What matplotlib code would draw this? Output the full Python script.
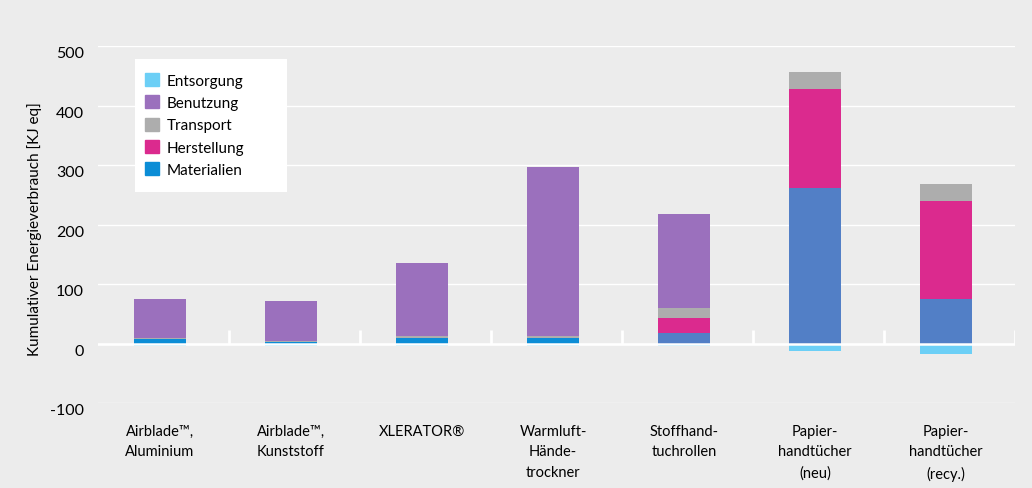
import numpy as np
import matplotlib
matplotlib.use("Agg")
import matplotlib.pyplot as plt
import matplotlib.transforms as mtransforms
from matplotlib.patches import Patch, Rectangle

plt.rcParams['font.family'] = ['Lato', 'DejaVu Sans']
plt.rcParams['axes.unicode_minus'] = False

# Daten
categories = ["Airblade\u2122,\nAluminium", "Airblade\u2122,\nKunststoff", "XLERATOR\u00ae",
              "Warmluft-\nHände-\ntrockner", "Stoffhand-\ntuchrollen",
              "Papier-\nhandtücher\n(neu)", "Papier-\nhandtücher\n(recy.)"]
materialien = [7, 3, 10, 10, 18, 261, 74]
herstellung = [0, 0, 0, 0, 25, 167, 165]
transport = [2, 2, 3, 3, 17, 29, 29]
benutzung = [66, 67, 122, 283, 157, 0, 0]
entsorgung = [-4, -4, -4, -4, -4, -12, -18]

c_ents = "#6ccff6"
c_benu = "#9b70bd"
c_trans = "#adadad"
c_herst = "#db2a8e"
c_mat = "#0b8dd6"
c_mat2 = "#527fc6"
bg = "#ececec"

fig = plt.figure(figsize=(10.32, 4.89), dpi=100, facecolor=bg)
ax = fig.add_axes([98/1032, 85/489, 917/1032, 357/489], facecolor=bg)

x = np.arange(len(categories))
xb = x - 0.027  # Balken leicht nach links versetzt wie im Original
w = 0.4
mat_colors = [c_mat] * 4 + [c_mat2] * 3

b0 = np.zeros(len(x))
ax.bar(xb, materialien, w, bottom=b0, color=mat_colors, zorder=2)
b1 = b0 + np.array(materialien)
ax.bar(xb, herstellung, w, bottom=b1, color=c_herst, zorder=2)
b2 = b1 + np.array(herstellung)
ax.bar(xb, transport, w, bottom=b2, color=c_trans, zorder=2)
b3 = b2 + np.array(transport)
ax.bar(xb, benutzung, w, bottom=b3, color=c_benu, zorder=2)
ax.bar(xb, entsorgung, w, color=c_ents, zorder=2)

ax.set_xlim(-0.5, len(x) - 0.5)
ax.set_ylim(-100, 500)
ax.set_yticks(np.arange(-100, 501, 100))
ax.yaxis.grid(True, color="white", linewidth=1, zorder=0)
ax.axhline(0, color="white", linewidth=1.8, zorder=3)
ax.vlines(np.arange(0.5, len(x)), 0, 22, color="white", linewidth=2, zorder=3)

for s in ax.spines.values():
    s.set_visible(False)
ax.tick_params(axis="both", length=0)
ax.tick_params(axis="y", labelsize=11.5, pad=10)
ax.set_xticks(xb)
ax.set_xticklabels(categories, fontsize=10.5, linespacing=1.6, va="top")
ax.tick_params(axis="x", pad=15)

offset = mtransforms.ScaledTranslation(0, -6 / 100, fig.dpi_scale_trans)
for lab in ax.get_yticklabels():
    lab.set_transform(lab.get_transform() + offset)

ax.set_ylabel("Kumulativer Energieverbrauch [KJ eq]", fontsize=11)
ax.yaxis.set_label_coords((42 - 98) / 917, 0.49)

# Legendenkasten
ax.add_patch(Rectangle(((135 - 98) / 917, (404 - 193) / 357), 152 / 917, 133 / 357,
                       transform=ax.transAxes, facecolor="white", edgecolor="none", zorder=4))
handles = [Patch(color=c_ents, label="Entsorgung"),
           Patch(color=c_benu, label="Benutzung"),
           Patch(color=c_trans, label="Transport"),
           Patch(color=c_herst, label="Herstellung"),
           Patch(color=c_mat, label="Materialien")]
leg = ax.legend(handles=handles, loc="upper left",
                bbox_to_anchor=((145 - 98) / 917, (404 - 74) / 357),
                frameon=False, fontsize=11, handlelength=0.92, handleheight=0.92,
                handletextpad=0.5, labelspacing=0.5, borderpad=0, borderaxespad=0)
leg.set_zorder(5)

fig.savefig("out.png", dpi=100, facecolor=bg)
